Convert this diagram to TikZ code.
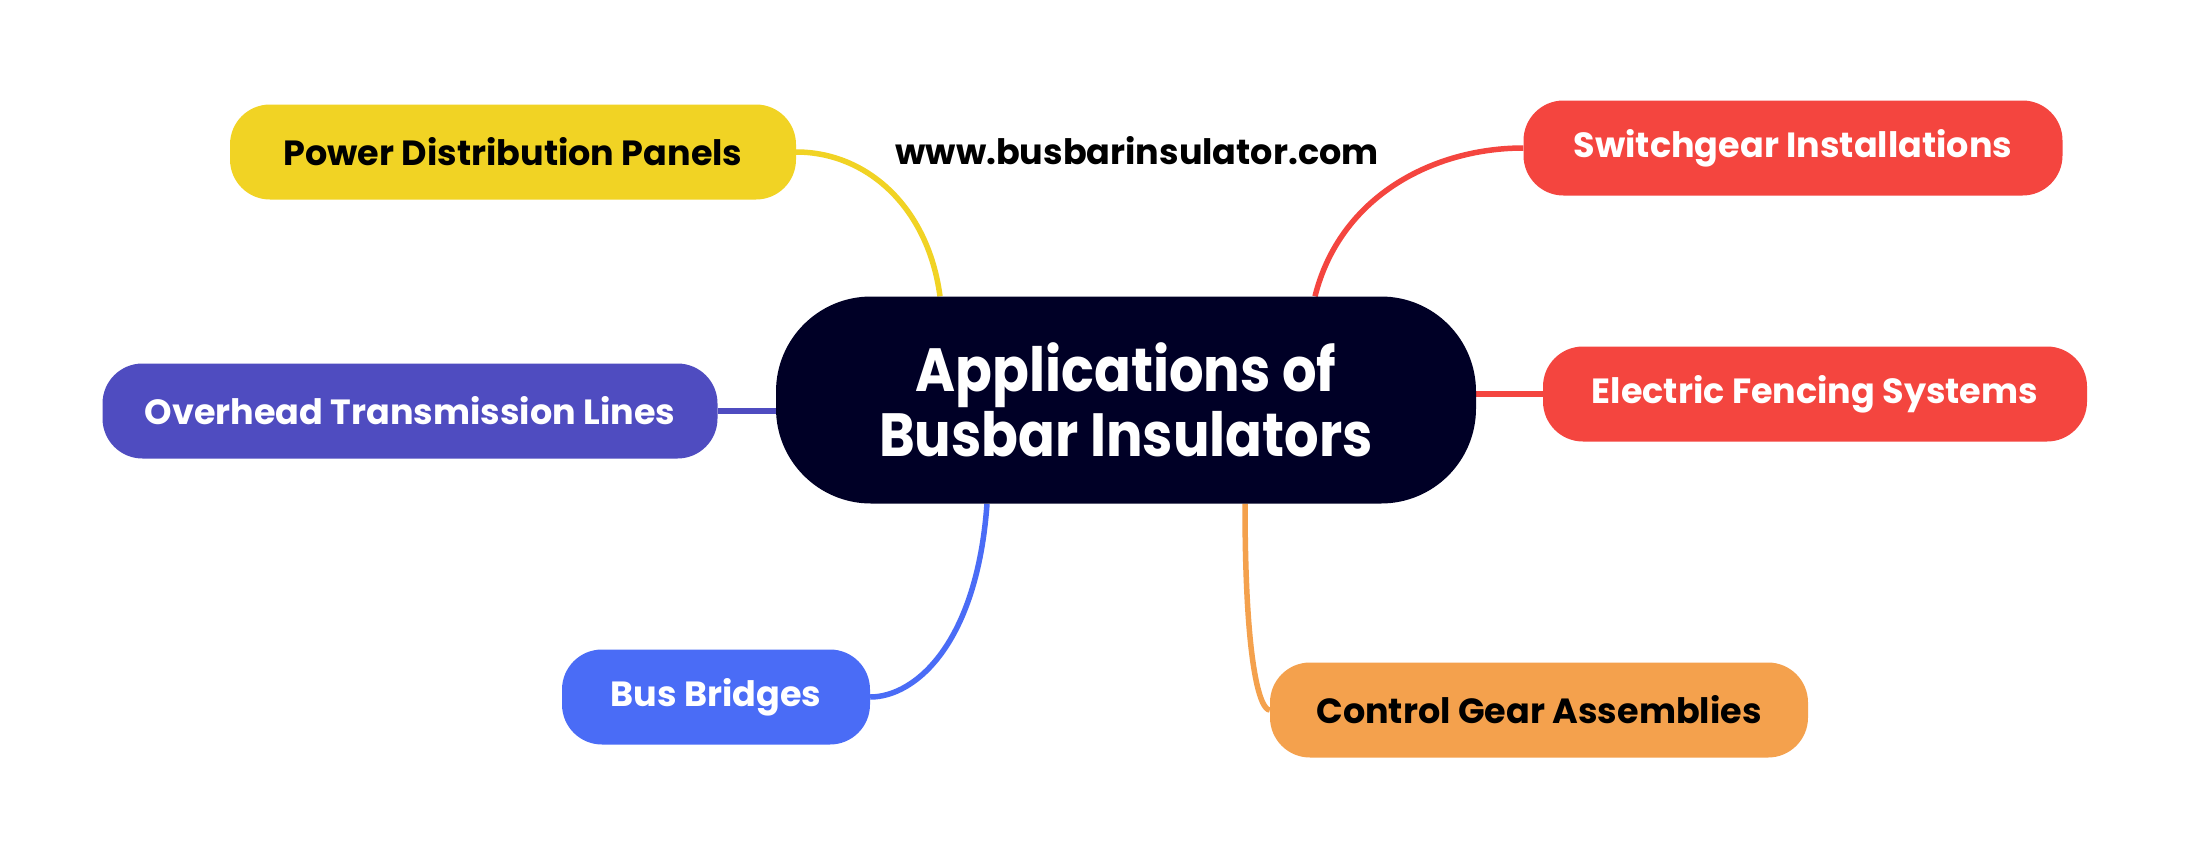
\documentclass[tikz,border=0pt]{standalone}
\usepackage{fontspec}
\setmainfont{Poppins}
\newfontfamily\titlefont{Poppins}[FakeStretch=0.89]
\usetikzlibrary{calc}
\definecolor{cYellow}{HTML}{F1D324}
\definecolor{cPurple}{HTML}{4F4CC0}
\definecolor{cBlue}{HTML}{4A6CF6}
\definecolor{cRed}{HTML}{F4453F}
\definecolor{cOrange}{HTML}{F4A14D}
\definecolor{cNavy}{HTML}{000026}
\pgfdeclarelayer{back}
\pgfdeclarelayer{bg}
\pgfsetlayers{back,bg,main}
\tikzset{
  leaf/.style={rectangle, rounded corners=40pt, minimum height=95pt, inner sep=0pt,
    font=\bfseries\fontsize{35}{40}\selectfont, align=center},
  central/.style={rectangle, rounded corners=95pt, fill=cNavy, text=white, minimum width=700pt,
    minimum height=207pt, inner sep=0pt, align=center, font=\titlefont\bfseries\fontsize{61}{65}\selectfont},
  link/.style={line width=5.5pt},
}
\begin{document}
\begin{tikzpicture}[x=1pt,y=-1pt]
\begin{pgfonlayer}{back}
\fill[white] (0,0) rectangle (2190,860);
\end{pgfonlayer}
\useasboundingbox (0,0) rectangle (2190,860);
\node[leaf, fill=cYellow, text=black, minimum width=566pt] (pdp) at (513,152) {Power Distribution Panels};
\node[leaf, fill=cPurple, text=white, minimum width=615pt] (otl) at (410,411) {Overhead Transmission Lines};
\node[leaf, fill=cBlue, text=white, minimum width=308pt] (bb) at (716,697) {Bus Bridges};
\node[leaf, fill=cRed, text=white, minimum width=539pt] (sw) at (1793,148) {Switchgear Installations};
\node[leaf, fill=cRed, text=white, minimum width=544pt] (ef) at (1815,394) {Electric Fencing Systems};
\node[leaf, fill=cOrange, text=black, minimum width=538pt] (cg) at (1539,710) {Control Gear Assemblies};
\node[central] (c) at (1126,400) {Applications of\\Busbar Insulators};
\node[font=\bfseries\fontsize{35}{40}\selectfont, text=black] (url) at (1137,151) {www.busbarinsulator.com};
\begin{pgfonlayer}{bg}
\draw[link, cYellow] (pdp.east) .. controls +(70,0) and +(-12,-90) .. ([xshift=-186pt]c.north);
\draw[link, cRed] ([xshift=189pt]c.north) .. controls +(25,-100) and +(-90,0) .. (sw.west);
\draw[link, cPurple] (otl.east) -- (otl.east -| c.west);
\draw[link, cRed] (c.east |- ef.west) -- (ef.west);
\draw[link, cBlue] ([xshift=-139pt]c.south) .. controls +(-10,140) and +(45,0) .. (bb.east);
\draw[link, cOrange] ([xshift=119pt]c.south) .. controls +(0,160) and +(-10,0) .. (cg.west);
\end{pgfonlayer}
\end{tikzpicture}
\end{document}
